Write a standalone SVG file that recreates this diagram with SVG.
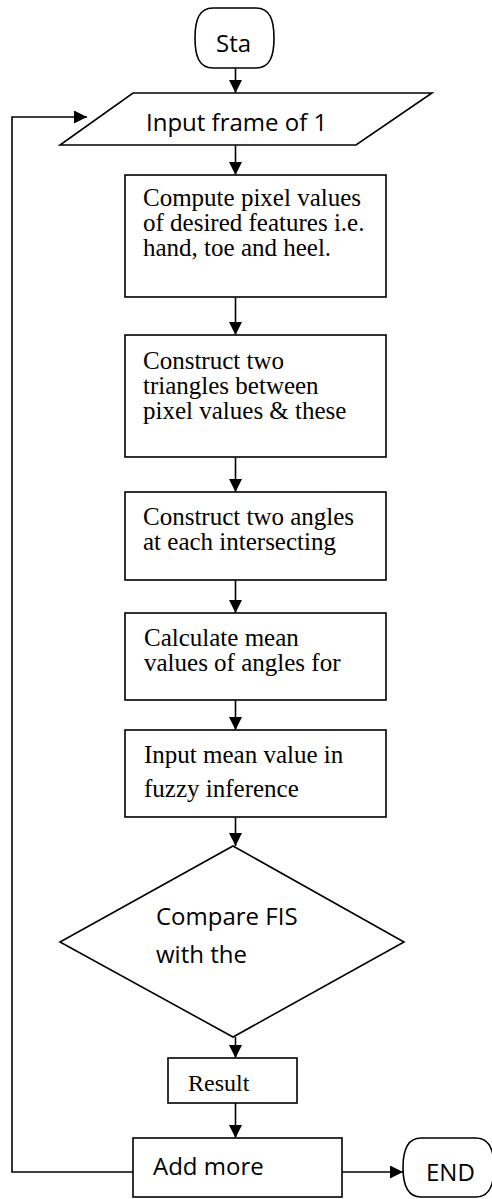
<svg xmlns="http://www.w3.org/2000/svg" width="492" height="1199" viewBox="0 0 492 1199">
<style>
.shape{fill:#fff;stroke:#000;stroke-width:1.6}
.conn{fill:none;stroke:#000;stroke-width:1.6}
.sans{font-family:"Open Sans","Liberation Sans",sans-serif;font-size:24px;fill:#000}
.serif{font-family:"Liberation Serif","Times New Roman",serif;font-size:25px;fill:#000}
.small{font-size:24px}
</style>
<defs>
<marker id="ah" markerUnits="userSpaceOnUse" markerWidth="13" markerHeight="13" refX="13" refY="6.5" orient="auto">
<path d="M0,0 L13,6.5 L0,13 Z" fill="#000"/>
</marker>
</defs>
<rect width="492" height="1199" fill="#fff"/>
<g id="connectors">
<line class="conn" x1="235.5" y1="68" x2="235.5" y2="93" marker-end="url(#ah)"/>
<line class="conn" x1="235.5" y1="145" x2="235.5" y2="175" marker-end="url(#ah)"/>
<line class="conn" x1="235.5" y1="297" x2="235.5" y2="335" marker-end="url(#ah)"/>
<line class="conn" x1="235.5" y1="457" x2="235.5" y2="492" marker-end="url(#ah)"/>
<line class="conn" x1="235.5" y1="580" x2="235.5" y2="613" marker-end="url(#ah)"/>
<line class="conn" x1="235.5" y1="700" x2="235.5" y2="730" marker-end="url(#ah)"/>
<line class="conn" x1="235.5" y1="817" x2="235.5" y2="846" marker-end="url(#ah)"/>
<line class="conn" x1="235.5" y1="1037" x2="235.5" y2="1058" marker-end="url(#ah)"/>
<line class="conn" x1="235.5" y1="1103" x2="235.5" y2="1138" marker-end="url(#ah)"/>
<line class="conn" x1="342" y1="1172" x2="403" y2="1172" marker-end="url(#ah)"/>
<polyline class="conn" points="133,1172 12,1172 12,117 87,117" marker-end="url(#ah)"/>
</g>
<g id="start">
<path class="shape" d="M213,8 H256 C270,8 274,20 274,38 C274,56 270,68 256,68 H213 C199,68 195,56 195,38 C195,20 199,8 213,8 Z"/>
<text class="sans" x="216" y="52">Sta</text>
</g>
<g id="input">
<polygon class="shape" points="133,93 432,93 356,145 60,145"/>
<text class="sans" x="146" y="131">Input frame of 1</text>
</g>
<g id="compute">
<rect class="shape" x="125" y="175" width="261" height="122"/>
<text class="serif" x="143" y="206">Compute pixel values</text>
<text class="serif" x="143" y="231">of desired features i.e.</text>
<text class="serif" x="143" y="256">hand, toe and heel.</text>
</g>
<g id="triangles">
<rect class="shape" x="125" y="335" width="261" height="122"/>
<text class="serif" x="143" y="369">Construct two</text>
<text class="serif" x="143" y="394">triangles between</text>
<text class="serif" x="143" y="419">pixel values &amp; these</text>
</g>
<g id="angles">
<rect class="shape" x="125" y="492" width="261" height="88"/>
<text class="serif" x="143" y="525">Construct two angles</text>
<text class="serif" x="143" y="550">at each intersecting</text>
</g>
<g id="mean">
<rect class="shape" x="125" y="613" width="261" height="87"/>
<text class="serif" x="144" y="646">Calculate mean</text>
<text class="serif" x="144" y="671">values of angles for</text>
</g>
<g id="fuzzy">
<rect class="shape" x="125" y="730" width="261" height="87"/>
<text class="serif" x="144" y="763">Input mean value in</text>
<text class="serif" x="144" y="797">fuzzy inference</text>
</g>
<g id="compare">
<polygon class="shape" points="233,846 404,942 233,1037 60,942"/>
<text class="sans" x="156" y="925">Compare FIS</text>
<text class="sans" x="156" y="963">with the</text>
</g>
<g id="result">
<rect class="shape" x="168" y="1058" width="129" height="45"/>
<text class="serif small" x="188" y="1091">Result</text>
</g>
<g id="addmore">
<rect class="shape" x="133" y="1138" width="209" height="59"/>
<text class="sans" x="153" y="1175">Add more</text>
</g>
<g id="end">
<path class="shape" d="M421,1138 H476 C490,1138 494,1152 494,1167.5 C494,1183 490,1197 476,1197 H421 C407,1197 403,1183 403,1167.5 C403,1152 407,1138 421,1138 Z"/>
<text class="sans" x="426" y="1181">END</text>
</g>
</svg>
